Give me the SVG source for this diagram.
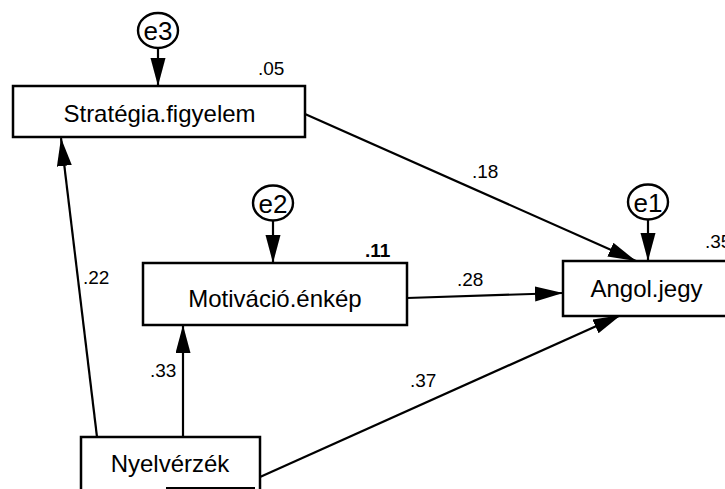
<svg xmlns="http://www.w3.org/2000/svg" width="725" height="489" viewBox="0 0 725 489">
  <style>
    .box { fill: #ffffff; stroke: #000000; stroke-width: 2.5; }
    .err { fill: #ffffff; stroke: #000000; stroke-width: 2.4; }
    .name { font-family: "Liberation Sans", Arial, sans-serif; font-size: 24px; fill: #000000; text-anchor: middle; }
    .ename { font-family: "Liberation Sans", Arial, sans-serif; font-size: 26px; fill: #000000; text-anchor: middle; }
    .coef { font-family: "Liberation Sans", Arial, sans-serif; font-size: 19px; fill: #000000; }
    .path { stroke: #000000; stroke-width: 2.2; fill: none; marker-end: url(#head); }
  </style>
  <defs>
    <marker id="head" markerUnits="userSpaceOnUse" markerWidth="30" markerHeight="16" refX="28" refY="7.5" orient="auto">
      <path d="M0,0 L28,7.5 L0,15 z" fill="#000000"/>
    </marker>
  </defs>

  <rect width="725" height="489" fill="#ffffff"/>

  <!-- regression paths -->
  <g id="connectors">
    <line class="path" x1="305" y1="114" x2="636" y2="261"/>
    <line class="path" x1="407" y1="298" x2="563" y2="293"/>
    <line class="path" x1="260" y1="477" x2="621" y2="315"/>
    <line class="path" x1="97" y1="437" x2="61" y2="138"/>
    <line class="path" x1="183" y1="437" x2="183" y2="325"/>
    <line class="path" x1="158" y1="48" x2="158" y2="86"/>
    <line class="path" x1="273" y1="221" x2="273" y2="263"/>
    <line class="path" x1="648" y1="220" x2="648" y2="261"/>
  </g>

  <!-- path coefficients -->
  <g id="coefficients">
    <text class="coef" x="472" y="178">.18</text>
    <text class="coef" x="457" y="286">.28</text>
    <text class="coef" x="83" y="284">.22</text>
    <text class="coef" x="150" y="377">.33</text>
    <text class="coef" x="410" y="387">.37</text>
  </g>

  <g id="e3">
    <ellipse class="err" cx="158" cy="30.5" rx="20" ry="17.5"/>
    <text class="ename" x="158" y="40">e3</text>
  </g>
  <g id="e2">
    <ellipse class="err" cx="273" cy="203" rx="20" ry="17.5"/>
    <text class="ename" x="273" y="212.5">e2</text>
  </g>
  <g id="e1">
    <ellipse class="err" cx="648" cy="202" rx="20" ry="17.5"/>
    <text class="ename" x="648" y="211.5">e1</text>
  </g>

  <g id="strategia">
    <rect class="box" x="13" y="86" width="292" height="51"/>
    <text class="name" x="159.5" y="122">Stratégia.figyelem</text>
    <text class="coef" x="258" y="75">.05</text>
  </g>

  <g id="motivacio">
    <rect class="box" x="143" y="263" width="264" height="62"/>
    <text class="name" x="275" y="307">Motiváció.énkép</text>
    <text class="coef" x="365" y="257" font-weight="bold">.11</text>
  </g>

  <g id="angol">
    <rect class="box" x="563" y="261" width="180" height="55"/>
    <text class="name" x="646.5" y="297">Angol.jegy</text>
    <text class="coef" x="705" y="248">.35</text>
  </g>

  <g id="nyelverzek">
    <rect class="box" x="81" y="437" width="179" height="60"/>
    <line x1="166" y1="488" x2="255" y2="488" stroke="#000000" stroke-width="2"/>
    <text class="name" x="170" y="472">Nyelvérzék</text>
  </g>
</svg>
